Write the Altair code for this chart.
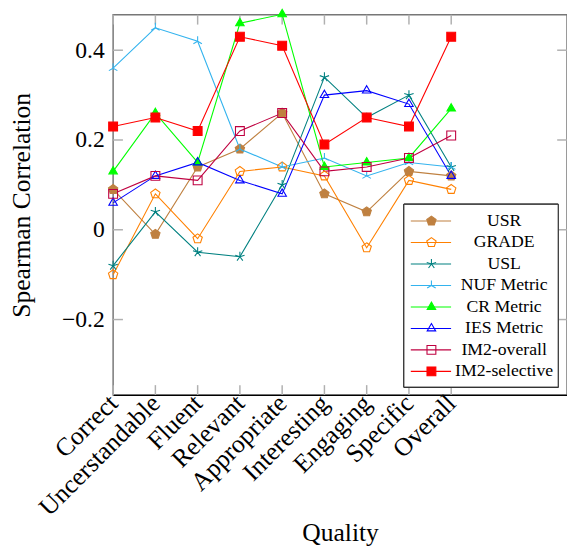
import json
import altair as alt
import pandas as pd

categories = ["Correct", "Uncerstandable", "Fluent", "Relevant", "Appropriate",
              "Interesting", "Engaging", "Specific", "Overall"]
series = ["USR", "GRADE", "USL", "NUF Metric", "CR Metric", "IES Metric",
          "IM2-overall", "IM2-selective"]

usr = [0.09, -0.01, 0.14, 0.18, 0.26, 0.08, 0.04, 0.13, 0.12]
grade = [-0.10, 0.08, -0.02, 0.13, 0.14, 0.12, -0.04, 0.11, 0.09]
usl = [-0.08, 0.04, -0.05, -0.06, 0.10, 0.34, 0.25, 0.30, 0.14]
nuf = [0.36, 0.45, 0.42, 0.18, 0.14, 0.16, 0.12, 0.15, 0.14]
cr = [0.13, 0.26, 0.15, 0.46, 0.48, 0.14, 0.15, 0.16, 0.27]
ies = [0.06, 0.12, 0.15, 0.11, 0.08, 0.30, 0.31, 0.28, 0.12]
im2_overall = [0.08, 0.12, 0.11, 0.22, 0.26, 0.13, 0.14, 0.16, 0.21]
im2_selective = [0.23, 0.25, 0.22, 0.43, 0.41, 0.19, 0.25, 0.23, 0.43]

y_ticks = [-0.2, 0.0, 0.2, 0.4]

colors = ["#bf8040", "#ff8000", "#008080", "#33b3ee", "#00ff00", "#0000ff",
          "#bf0040", "#ff0000"]
fills = ["#bf8040", "transparent", "transparent", "transparent", "#00ff00",
         "transparent", "transparent", "#ff0000"]
pentagon = "M0,-1L0.951,-0.309L0.588,0.809L-0.588,0.809L-0.951,-0.309Z"
star5 = "M0,0L0,-1M0,0L0.951,-0.309M0,0L0.588,0.809M0,0L-0.588,0.809M0,0L-0.951,-0.309"
merc = "M0,0L0,-1M0,0L-0.866,0.5M0,0L0.866,0.5"
tri = "M0,-1L0.866,0.5L-0.866,0.5Z"
square = "M-0.9,-0.9H0.9V0.9H-0.9Z"
shapes = [pentagon, pentagon, star5, merc, tri, tri, square, square]

all_vals = [usr, grade, usl, nuf, cr, ies, im2_overall, im2_selective]
rows = []
for s, vals in zip(series, all_vals):
    for i, v in enumerate(vals):
        rows.append({"series": s, "idx": i, "value": v})
df = pd.DataFrame(rows)

W, H = 462, 387
XDOM = [0, 10.74]
YDOM = [-0.368, 0.479]
FONT = "Liberation Serif"

xs = alt.Scale(domain=XDOM, nice=False, zero=False)
ys = alt.Scale(domain=YDOM, nice=False, zero=False)
stroke_enc = alt.Stroke("series:N", scale=alt.Scale(domain=series, range=colors), legend=None)
fill_enc = alt.Fill("series:N", scale=alt.Scale(domain=series, range=fills), legend=None)
shape_enc = alt.Shape("series:N", scale=alt.Scale(domain=series, range=shapes), legend=None)

x_axis = alt.Axis(
    values=list(range(len(categories))),
    labelExpr=json.dumps(categories) + "[datum.value]",
    labelAngle=-45, labelAlign="right", labelBaseline="middle",
    labelFont=FONT, labelFontSize=26, labelColor="black", labelPadding=4,
    labelOverlap=False, labelFlush=False, ticks=False, grid=False,
    domain=True, domainColor="black", domainWidth=1.3,
    title="Quality", titleFont=FONT, titleFontSize=26, titleFontWeight="normal",
    titleColor="black", titleX=W / 2, titleY=148, titleBaseline="alphabetic",
    titleAlign="center",
)
y_axis = alt.Axis(
    values=y_ticks,
    labelExpr="datum.value == 0 ? '0' : format(datum.value, '.1f')",
    labelFont=FONT, labelFontSize=24, labelColor="black", labelPadding=9,
    labelFlush=False, ticks=False, grid=False, domain=False,
    title="Spearman Correlation", titleFont=FONT, titleFontSize=26,
    titleFontWeight="normal", titleColor="black", titleX=-93, titleY=H / 2,
    titleAngle=-90, titleAlign="center", titleBaseline="middle",
)

base = alt.Chart(df)

xt = pd.DataFrame({"idx": list(range(len(categories)))})
yt = pd.DataFrame({"value": y_ticks})
tick_style = dict(color="#b0b0b0", strokeWidth=1.5)
xt_bottom = alt.Chart(xt).mark_rule(**tick_style).encode(
    x=alt.X("idx:Q", scale=xs, axis=x_axis), y=alt.value(H), y2=alt.value(H - 10))
xt_top = alt.Chart(xt).mark_rule(**tick_style).encode(
    x=alt.X("idx:Q", scale=xs, axis=x_axis), y=alt.value(0), y2=alt.value(10))
yt_left = alt.Chart(yt).mark_rule(**tick_style).encode(
    y=alt.Y("value:Q", scale=ys, axis=y_axis), x=alt.value(0), x2=alt.value(10))
yt_right = alt.Chart(yt).mark_rule(**tick_style).encode(
    y=alt.Y("value:Q", scale=ys, axis=None), x=alt.value(W - 10), x2=alt.value(W))

lines = base.mark_line(strokeWidth=1.1).encode(
    x=alt.X("idx:Q", scale=xs, axis=x_axis),
    y=alt.Y("value:Q", scale=ys, axis=None),
    stroke=stroke_enc,
    detail="series:N",
    order="idx:Q",
)
points = base.mark_point(size=100, strokeWidth=1.1, opacity=1, fillOpacity=1).encode(
    x=alt.X("idx:Q", scale=xs, axis=x_axis),
    y=alt.Y("value:Q", scale=ys, axis=None),
    stroke=stroke_enc, fill=fill_enc, shape=shape_enc,
)

# legend
leg = pd.DataFrame({"series": series})
ly = alt.Y("series:N", sort=series,
           scale=alt.Scale(type="point", domain=series, range=[210, 363], padding=0),
           axis=None)
leg_box = alt.Chart(leg).mark_rect(fill="white", stroke="#333333", strokeWidth=1).encode(
    x=alt.value(296), x2=alt.value(453), y=alt.value(193), y2=alt.value(379))
leg_line = alt.Chart(leg).mark_rule(strokeWidth=1.1).encode(
    x=alt.value(303), x2=alt.value(344), y=ly, stroke=stroke_enc)
leg_pt = alt.Chart(leg).mark_point(size=100, strokeWidth=1.1, opacity=1, fillOpacity=1).encode(
    x=alt.value(324), y=ly, stroke=stroke_enc, fill=fill_enc, shape=shape_enc)
leg_txt = alt.Chart(leg).mark_text(font=FONT, fontSize=18, color="black",
                                   align="center", baseline="middle").encode(
    x=alt.value(398), y=ly, text="series:N")

chart = alt.layer(
    xt_bottom, xt_top, yt_left, yt_right, lines, points,
    leg_box, leg_line, leg_pt, leg_txt,
).resolve_scale(y="independent").properties(
    width=W, height=H,
    padding={"left": 107, "top": 2, "right": 0, "bottom": 156},
    autosize=alt.AutoSizeParams(type="none"),
).configure_view(stroke="#777777", strokeWidth=1.5)

chart.save("out.html", embed_options={"renderer": "svg", "actions": False})
